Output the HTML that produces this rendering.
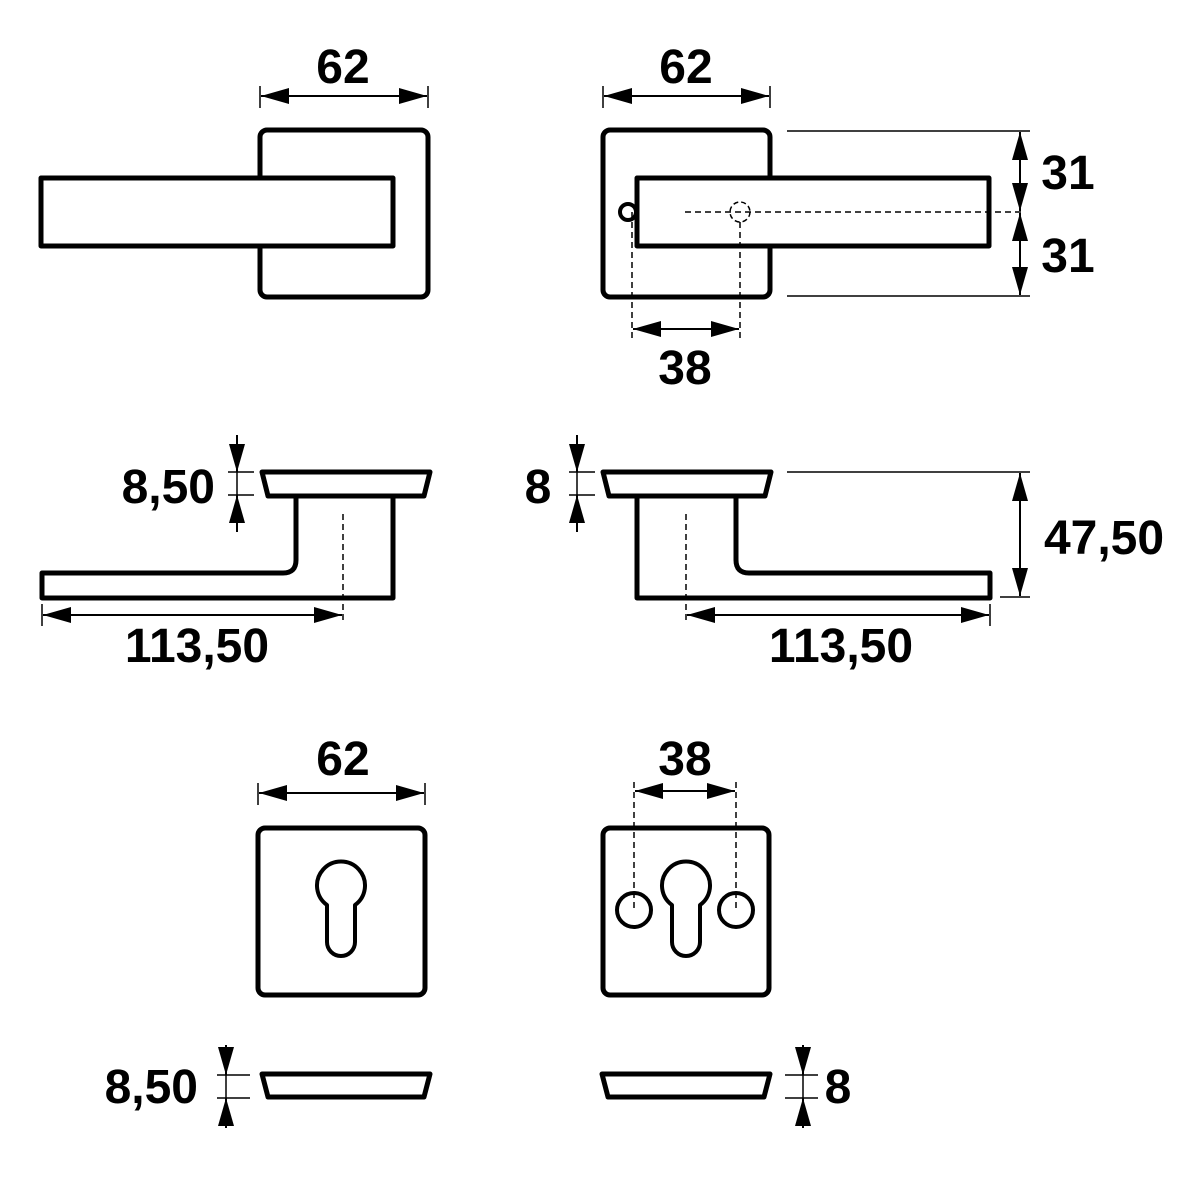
<!DOCTYPE html>
<html><head><meta charset="utf-8"><style>
html,body{margin:0;padding:0;background:#fff;}
svg{display:block;}
text{font-family:"Liberation Sans",Arial,sans-serif;font-weight:bold;font-size:48px;fill:#000;}
</style></head><body>
<svg width="1181" height="1181" viewBox="0 0 1181 1181" xmlns="http://www.w3.org/2000/svg">
<defs>
<marker id="a" viewBox="0 0 28 16" refX="28" refY="8" markerWidth="28" markerHeight="16" markerUnits="userSpaceOnUse" orient="auto-start-reverse">
<path d="M0,0 L28,8 L0,16 z" fill="#000"/>
</marker>
</defs>
<g fill="none" stroke="#000" stroke-linejoin="round">
<rect x="260" y="130" width="168" height="167" rx="7" stroke-width="5"/>
<rect x="41" y="178" width="352" height="68" fill="#fff" stroke-width="5"/>
<line x1="260" y1="86" x2="260" y2="108" stroke-width="1.5"/>
<line x1="428" y1="86" x2="428" y2="108" stroke-width="1.5"/>
<line x1="261" y1="96" x2="427" y2="96" stroke-width="2" marker-start="url(#a)" marker-end="url(#a)"/>

<rect x="603" y="130" width="167" height="167" rx="7" stroke-width="5"/>
<circle cx="628" cy="212" r="8" stroke-width="4"/>
<rect x="637" y="178" width="352" height="68" fill="#fff" stroke-width="5"/>
<line x1="685" y1="212" x2="1025" y2="212" stroke-width="1.5" stroke-dasharray="6,4"/>
<circle cx="740" cy="212" r="10" stroke-width="1.5" stroke-dasharray="5,3"/>
<line x1="632" y1="212" x2="632" y2="340" stroke-width="1.5" stroke-dasharray="6,4"/>
<line x1="740" y1="222" x2="740" y2="340" stroke-width="1.5" stroke-dasharray="6,4"/>
<line x1="633" y1="329" x2="739" y2="329" stroke-width="2" marker-start="url(#a)" marker-end="url(#a)"/>
<line x1="787" y1="131" x2="1030" y2="131" stroke-width="1.5"/>
<line x1="787" y1="296" x2="1030" y2="296" stroke-width="1.5"/>
<line x1="1020" y1="132" x2="1020" y2="211" stroke-width="2" marker-start="url(#a)" marker-end="url(#a)"/>
<line x1="1020" y1="213" x2="1020" y2="295" stroke-width="2" marker-start="url(#a)" marker-end="url(#a)"/>
<line x1="603" y1="86" x2="603" y2="108" stroke-width="1.5"/>
<line x1="770" y1="86" x2="770" y2="108" stroke-width="1.5"/>
<line x1="604" y1="96" x2="769" y2="96" stroke-width="2" marker-start="url(#a)" marker-end="url(#a)"/>

<path d="M262,472 L430,472 L424,496 L268,496 Z" stroke-width="5"/>
<path d="M296,496 L296,560 Q296,573 283,573 L42,573 L42,598 L393,598 L393,496" stroke-width="5"/>
<line x1="343" y1="514" x2="343" y2="624" stroke-width="1.5" stroke-dasharray="6,4"/>
<line x1="42" y1="604" x2="42" y2="626" stroke-width="1.5"/>
<line x1="43" y1="615" x2="342" y2="615" stroke-width="2" marker-start="url(#a)" marker-end="url(#a)"/>
<line x1="228" y1="472" x2="254" y2="472" stroke-width="1.5"/>
<line x1="228" y1="495" x2="254" y2="495" stroke-width="1.5"/>
<line x1="237" y1="435" x2="237" y2="472" stroke-width="2" marker-end="url(#a)"/>
<line x1="237" y1="532" x2="237" y2="495" stroke-width="2" marker-end="url(#a)"/>
<line x1="237" y1="472" x2="237" y2="495" stroke-width="1.5"/>

<path d="M603,472 L771,472 L765,496 L609,496 Z" stroke-width="5"/>
<path d="M736,496 L736,560 Q736,573 749,573 L990,573 L990,598 L637,598 L637,496" stroke-width="5"/>
<line x1="686" y1="514" x2="686" y2="624" stroke-width="1.5" stroke-dasharray="6,4"/>
<line x1="990" y1="604" x2="990" y2="626" stroke-width="1.5"/>
<line x1="687" y1="615" x2="989" y2="615" stroke-width="2" marker-start="url(#a)" marker-end="url(#a)"/>
<line x1="569" y1="472" x2="595" y2="472" stroke-width="1.5"/>
<line x1="569" y1="495" x2="595" y2="495" stroke-width="1.5"/>
<line x1="577" y1="435" x2="577" y2="472" stroke-width="2" marker-end="url(#a)"/>
<line x1="577" y1="532" x2="577" y2="495" stroke-width="2" marker-end="url(#a)"/>
<line x1="577" y1="472" x2="577" y2="495" stroke-width="1.5"/>
<line x1="787" y1="472" x2="1030" y2="472" stroke-width="1.5"/>
<line x1="1000" y1="597" x2="1030" y2="597" stroke-width="1.5"/>
<line x1="1020" y1="473" x2="1020" y2="596" stroke-width="2" marker-start="url(#a)" marker-end="url(#a)"/>

<rect x="258" y="828" width="167" height="167" rx="7" stroke-width="5"/>
<path d="M327,905 A24,24 0 1 1 355,905 L355,942 A14,14 0 0 1 327,942 Z" stroke-width="4"/>
<line x1="258" y1="783" x2="258" y2="805" stroke-width="1.5"/>
<line x1="425" y1="783" x2="425" y2="805" stroke-width="1.5"/>
<line x1="259" y1="793" x2="424" y2="793" stroke-width="2" marker-start="url(#a)" marker-end="url(#a)"/>

<rect x="603" y="828" width="166" height="167" rx="7" stroke-width="5"/>
<path d="M672,905 A24,24 0 1 1 700,905 L700,942 A14,14 0 0 1 672,942 Z" stroke-width="4"/>
<circle cx="634" cy="910" r="17" stroke-width="4"/>
<circle cx="736" cy="910" r="17" stroke-width="4"/>
<line x1="634" y1="782" x2="634" y2="912" stroke-width="1.5" stroke-dasharray="6,4"/>
<line x1="736" y1="782" x2="736" y2="912" stroke-width="1.5" stroke-dasharray="6,4"/>
<line x1="635" y1="791" x2="735" y2="791" stroke-width="2" marker-start="url(#a)" marker-end="url(#a)"/>

<path d="M262,1074 L430,1074 L424,1097 L268,1097 Z" stroke-width="5"/>
<line x1="217" y1="1075" x2="250" y2="1075" stroke-width="1.5"/>
<line x1="217" y1="1098" x2="250" y2="1098" stroke-width="1.5"/>
<line x1="226" y1="1045" x2="226" y2="1075" stroke-width="2" marker-end="url(#a)"/>
<line x1="226" y1="1128" x2="226" y2="1098" stroke-width="2" marker-end="url(#a)"/>
<line x1="226" y1="1075" x2="226" y2="1098" stroke-width="1.5"/>

<path d="M602,1074 L770,1074 L764,1097 L608,1097 Z" stroke-width="5"/>
<line x1="785" y1="1075" x2="818" y2="1075" stroke-width="1.5"/>
<line x1="785" y1="1098" x2="818" y2="1098" stroke-width="1.5"/>
<line x1="803" y1="1045" x2="803" y2="1075" stroke-width="2" marker-end="url(#a)"/>
<line x1="803" y1="1128" x2="803" y2="1098" stroke-width="2" marker-end="url(#a)"/>
<line x1="803" y1="1075" x2="803" y2="1098" stroke-width="1.5"/>
</g>

<g>
<text x="343" y="83" text-anchor="middle">62</text>
<text x="686" y="83" text-anchor="middle">62</text>
<text x="685" y="384" text-anchor="middle">38</text>
<text x="1068" y="189" text-anchor="middle">31</text>
<text x="1068" y="272" text-anchor="middle">31</text>
<text x="215" y="503" text-anchor="end">8,50</text>
<text x="538" y="503" text-anchor="middle">8</text>
<text x="1104" y="554" text-anchor="middle">47,50</text>
<text x="197" y="662" text-anchor="middle">113,50</text>
<text x="841" y="662" text-anchor="middle">113,50</text>
<text x="343" y="775" text-anchor="middle">62</text>
<text x="685" y="775" text-anchor="middle">38</text>
<text x="198" y="1103" text-anchor="end">8,50</text>
<text x="838" y="1103" text-anchor="middle">8</text>
</g>
</svg>
</body></html>
